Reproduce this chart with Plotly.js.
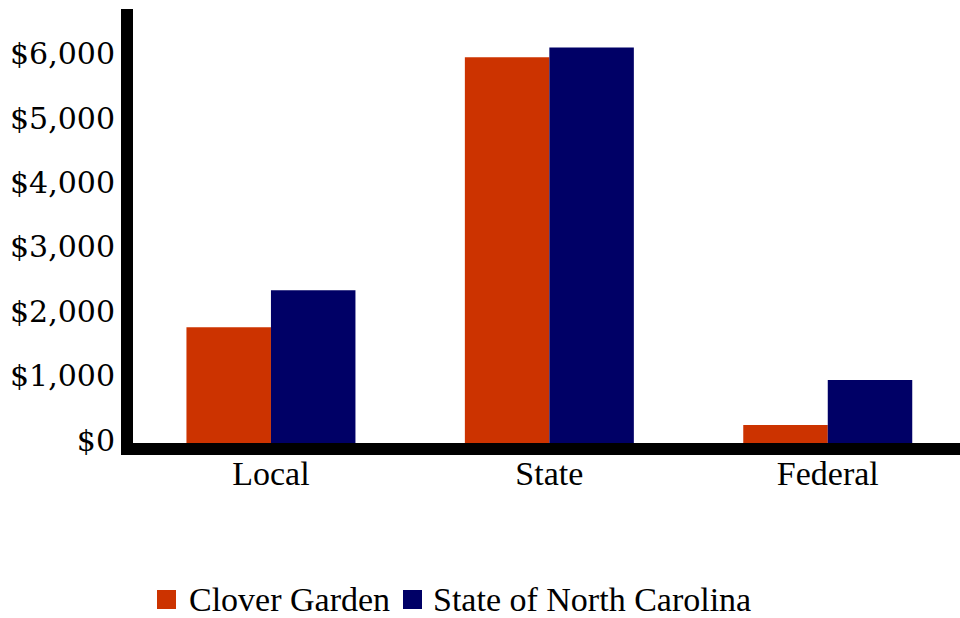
<!DOCTYPE html>
<html>
<head>
<meta charset="utf-8">
<script src="https://cdn.plot.ly/plotly-3.0.1.min.js"></script>
<style>html,body{margin:0;padding:0;background:#fff;}#chart{width:960px;height:618px;}</style>
</head>
<body>
<div id="chart"></div>
<script>
const categories = ["Local", "State", "Federal"];
const seriesNames = ["Clover Garden", "State of North Carolina"];
const cloverGarden = [1797, 5989, 280];
const northCarolina = [2371, 6144, 978];
const colors = ["#CC3300", "#000066"];

const W = 960, H = 618;
const M = {l: 133, r: 0, t: 9, b: 175};
const plotW = W - M.l - M.r, plotH = H - M.t - M.b;
const px = x => (x - M.l) / plotW;
const py = y => (H - M.b - y) / plotH;

const traces = [
  {type: "bar", name: seriesNames[0], x: categories, y: cloverGarden, marker: {color: colors[0]}, hoverinfo: "none"},
  {type: "bar", name: seriesNames[1], x: categories, y: northCarolina, marker: {color: colors[1]}, hoverinfo: "none"}
];

// manual legend (large square swatches like the reference)
const legendSwatchX = [157, 403];
const legendTextX = [187, 431];
const shapes = seriesNames.map((n, i) => ({
  type: "rect", xref: "paper", yref: "paper",
  x0: px(legendSwatchX[i]), x1: px(legendSwatchX[i] + 19),
  y0: py(590), y1: py(609),
  fillcolor: colors[i], line: {width: 0}
}));
const annotations = seriesNames.map((n, i) => ({
  text: n, xref: "paper", yref: "paper",
  x: px(legendTextX[i]), y: py(599), xanchor: "left", yanchor: "middle",
  showarrow: false, font: {family: "Liberation Serif", size: 34, color: "#000"}
}));

const layout = {
  width: W, height: H,
  margin: M,
  paper_bgcolor: "#fff", plot_bgcolor: "#fff",
  barmode: "group",
  bargap: 0.393, bargroupgap: 0,
  showlegend: false,
  shapes: shapes,
  annotations: annotations,
  xaxis: {range: [-0.4955, 2.475], showline: true, linecolor: "#000", linewidth: 12,
          ticks: "", showgrid: false, zeroline: false, ticklabelstandoff: -11,
          tickfont: {family: "Liberation Serif", size: 34, color: "#000"}},
  yaxis: {range: [0, 6740], showline: true, linecolor: "#000", linewidth: 12,
          ticks: "", showgrid: false, zeroline: false, dtick: 1000, tick0: 0,
          tickprefix: "$", tickformat: ",d", ticklabelshift: -3,
          tickfont: {family: "DejaVu Serif", size: 30, color: "#000"}}
};

Plotly.newPlot("chart", traces, layout, {displayModeBar: false, staticPlot: true});
</script>
</body>
</html>
